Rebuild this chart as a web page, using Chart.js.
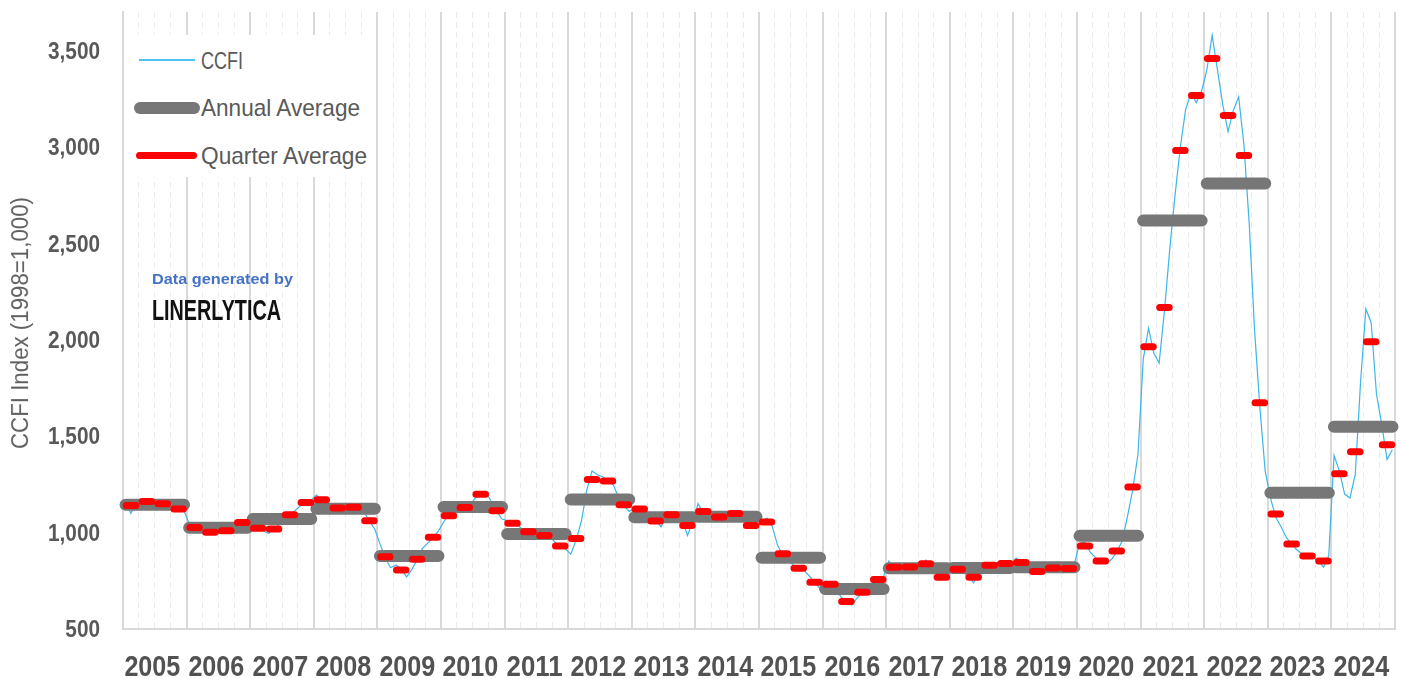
<!DOCTYPE html>
<html>
<head>
<meta charset="utf-8">
<script src="https://cdn.jsdelivr.net/npm/chart.js@4.4.1/dist/chart.umd.min.js"></script>
<style>
html,body{margin:0;padding:0;background:#fff;}
#wrap{position:relative;width:1401px;height:679px;overflow:hidden;background:#fff;}
#c{position:absolute;left:0;top:0;}
.abs{position:absolute;}
.txt{position:absolute;white-space:nowrap;transform-origin:0 50%;}
.lbl{position:absolute;white-space:nowrap;}
</style>
</head>
<body>
<div id="wrap">
  <canvas id="c" width="1401" height="679"></canvas>
  <div class="abs" style="left:124px;top:35px;width:252px;height:142px;background:#fff;"></div>
  <div class="abs" style="left:139px;top:59px;width:56px;height:1.6px;background:#4fc3ef;"></div>
  <div class="abs" style="left:134px;top:102px;width:66px;height:12px;border-radius:6px;background:#777777;"></div>
  <div class="abs" style="left:136px;top:151.5px;width:61px;height:7px;border-radius:3.5px;background:#ff0000;"></div>
  <div class="txt fit" data-w="42" style="left:201px;top:46.7px;font-size:24px;line-height:28px;color:#595959;">CCFI</div>
  <div class="txt fit" data-w="159" style="left:201px;top:94.4px;font-size:24px;line-height:28px;color:#595959;">Annual Average</div>
  <div class="txt fit" data-w="166" style="left:201px;top:142px;font-size:24px;line-height:28px;color:#595959;">Quarter Average</div>
  <div class="txt fit" data-w="141" style="left:152px;top:269.8px;font-size:15px;line-height:18px;font-weight:bold;color:#4472c4;">Data generated by</div>
  <div class="txt fit" data-w="129" style="left:152px;top:292.6px;font-size:30px;line-height:34px;font-weight:bold;color:#111111;">LINERLYTICA</div>
  <div id="ytitle" class="lbl" style="font-size:23px;line-height:28px;color:#606060;">CCFI Index (1998=1,000)</div>
</div>
<script>
// ---------------- DATA ----------------
const years = [2005,2006,2007,2008,2009,2010,2011,2012,2013,2014,2015,2016,2017,2018,2019,2020,2021,2022,2023,2024];
const yTicks = [500,1000,1500,2000,2500,3000,3500];

// Annual averages as drawn
const annualAvg = [1145,1025,1071,1124,878,1133,993,1172,1080,1082,870,708,815,817,820,983,2618,2810,1206,1549];

// Quarter averages (Q1..Q4 for each year)
const quarterAvg = [
  1140,1161,1149,1123,
  1026,1002,1010,1052,
  1023,1019,1092,1156,
  1170,1127,1132,1061,
  875,806,862,976,
  1087,1130,1199,1113,
  1049,1005,985,931,
  970,1275,1268,1145,
  1122,1060,1092,1037,
  1110,1081,1099,1037,
  1055,890,815,742,
  732,643,690,757,
  820,822,838,769,
  810,769,830,840,
  845,798,817,814,
  931,853,905,1237,
  1964,2167,2982,3267,
  3459,3163,2956,1673,
  1097,941,879,853,
  1305,1419,1990,1455
];

// CCFI monthly readings (Jan..Dec for each year)
const ccfiMonthly = [
  1150,1100,1165,1165,1175,1145,1150,1155,1142,1130,1122,1115,
  1045,1020,1012,1005,1000,1000,1002,1010,1018,1035,1055,1065,
  1040,1020,1010,995,1020,1042,1065,1095,1115,1140,1160,1168,
  1195,1170,1145,1125,1125,1130,1130,1135,1130,1105,1060,1018,
  940,868,818,832,812,770,808,860,918,945,975,1008,
  1055,1092,1115,1118,1128,1145,1180,1205,1212,1160,1110,1070,
  1062,1048,1037,1015,1005,995,985,990,980,950,928,915,
  888,962,1060,1220,1320,1300,1290,1268,1248,1185,1140,1110,
  1125,1130,1110,1085,1065,1030,1078,1100,1098,1070,985,1055,
  1150,1100,1080,1075,1083,1085,1100,1100,1097,1060,1030,1020,
  1058,1075,1032,935,880,858,830,810,805,775,742,710,
  748,742,706,665,638,625,660,690,720,740,757,773,
  852,812,796,815,832,818,833,857,825,782,765,760,
  822,815,795,770,740,797,815,830,845,845,840,835,
  868,850,818,800,793,800,815,826,810,792,812,838,
  945,950,898,870,850,840,860,900,955,1080,1220,1405,
  1900,2060,1930,1880,2150,2470,2750,3000,3195,3280,3230,3290,
  3400,3580,3400,3220,3080,3190,3260,3010,2600,2050,1650,1320,
  1180,1080,1030,975,940,910,890,880,868,855,820,880,
  1400,1320,1200,1180,1300,1780,2160,2090,1720,1560,1380,1430
];

// ---------------- BUILD ----------------
const FONT = '"Liberation Sans", Arimo, "DejaVu Sans", sans-serif';
const wrap = document.getElementById('wrap');
document.querySelectorAll('.txt,.lbl').forEach(el => { el.style.fontFamily = FONT; });

const ccfiPts = [];
years.forEach((yr, i) => {
  for (let m = 0; m < 12; m++) ccfiPts.push({x: yr + (m + 0.5) / 12, y: ccfiMonthly[i * 12 + m]});
});
const annualPts = [];
years.forEach((yr, i) => {
  annualPts.push({x: yr + 0.04, y: annualAvg[i]}, {x: yr + 0.96, y: annualAvg[i]}, {x: yr + 0.98, y: null});
});
const quarterPts = [];
years.forEach((yr, i) => {
  for (let q = 0; q < 4; q++) {
    const s = yr + q / 4;
    const v = quarterAvg[i * 4 + q];
    quarterPts.push({x: s + 0.05, y: v}, {x: s + 0.20, y: v}, {x: s + 0.22, y: null});
  }
});

const isYear = v => Math.abs(v - Math.round(v)) < 1e-6;

// HTML tick labels placed from the chart's own scales
let labelsDone = false;
const htmlTicks = {
  id: 'htmlTicks',
  afterDraw(chart) {
    if (labelsDone) return;
    labelsDone = true;
    const xs = chart.scales.x, ys = chart.scales.y;
    // y tick labels
    yTicks.forEach(v => {
      const el = document.createElement('div');
      el.className = 'lbl';
      el.textContent = v.toLocaleString('en-US');
      el.style.cssText += 'font-family:' + FONT + ';font-size:24px;line-height:28px;font-weight:bold;color:#595959;transform-origin:100% 50%;';
      wrap.appendChild(el);
      const w = el.getBoundingClientRect().width;
      el.style.left = (100 - w) + 'px';
      el.style.top = (ys.getPixelForValue(v) - 13.8) + 'px';
      el.style.transform = 'scaleX(0.867)';
    });
    // x tick labels (year names, centred in each year)
    years.forEach(yr => {
      const el = document.createElement('div');
      el.className = 'lbl';
      el.textContent = String(yr);
      el.style.cssText += 'font-family:' + FONT + ';font-size:30px;line-height:34px;font-weight:bold;color:#525252;transform-origin:50% 50%;';
      wrap.appendChild(el);
      const w = el.getBoundingClientRect().width;
      el.style.left = (xs.getPixelForValue(yr + 0.5) - 2 - w / 2) + 'px';
      el.style.top = '649px';
      el.style.transform = 'scaleX(' + (56 / w) + ')';
    });
    // y axis title
    const t = document.getElementById('ytitle');
    const r = t.getBoundingClientRect();
    const cy = (ys.top + ys.bottom) / 2 + 2;
    t.style.left = (20 - r.width / 2) + 'px';
    t.style.top = (cy - r.height / 2) + 'px';
    t.style.transformOrigin = '50% 50%';
    t.style.transform = 'rotate(-90deg) scaleX(' + (252 / r.width) + ')';
  }
};

new Chart(document.getElementById('c'), {
  type: 'line',
  data: {
    datasets: [
      {label: 'Quarter Average', data: quarterPts, order: 1, borderColor: '#ff0000', borderWidth: 7,
       borderCapStyle: 'round', pointRadius: 0, spanGaps: false, clip: 8, tension: 0},
      {label: 'Annual Average', data: annualPts, order: 2, borderColor: '#777777', borderWidth: 12,
       borderCapStyle: 'round', pointRadius: 0, spanGaps: false, clip: 8, tension: 0},
      {label: 'CCFI', data: ccfiPts, order: 3, borderColor: '#3db6e8', borderWidth: 1.2,
       pointRadius: 0, tension: 0}
    ]
  },
  plugins: [htmlTicks],
  options: {
    responsive: false,
    devicePixelRatio: 1,
    animation: false,
    layout: {padding: {top: 12, right: 6, left: 0, bottom: 0}},
    plugins: {legend: {display: false}, tooltip: {enabled: false}},
    scales: {
      x: {
        type: 'linear', min: years[0], max: years[years.length - 1] + 1,
        afterBuildTicks: s => {
          const t = [];
          years.forEach(yr => { for (let q = 0; q < 4; q++) t.push({value: yr + q / 4}); });
          t.push({value: years[years.length - 1] + 1});
          s.ticks = t;
        },
        afterFit: s => { s.height = 50; },
        ticks: {display: false, padding: 0, autoSkip: false, maxRotation: 0, minRotation: 0},
        grid: {
          drawTicks: false,
          color: ctx => (ctx.tick && !isYear(ctx.tick.value)) ? '#ebebeb' : '#d9d9d9',
          lineWidth: ctx => (ctx.tick && !isYear(ctx.tick.value)) ? 1 : 2
        },
        border: {
          display: true, color: '#d9d9d9', width: 2,
          dash: ctx => (ctx.tick && !isYear(ctx.tick.value)) ? [6, 4] : []
        }
      },
      y: {
        type: 'linear', min: 500, max: 3700,
        afterBuildTicks: s => { s.ticks = yTicks.map(v => ({value: v})); },
        afterFit: s => { s.width = 123; },
        ticks: {display: false, padding: 0},
        grid: {display: false},
        border: {display: true, color: '#d9d9d9', width: 2},
        title: {display: false}
      }
    }
  }
});

// fit overlay texts to their measured widths
document.querySelectorAll('.fit').forEach(el => {
  const w = el.getBoundingClientRect().width;
  const target = parseFloat(el.dataset.w);
  if (w > 0) el.style.transform = 'scaleX(' + (target / w) + ')';
});
</script>
</body>
</html>
